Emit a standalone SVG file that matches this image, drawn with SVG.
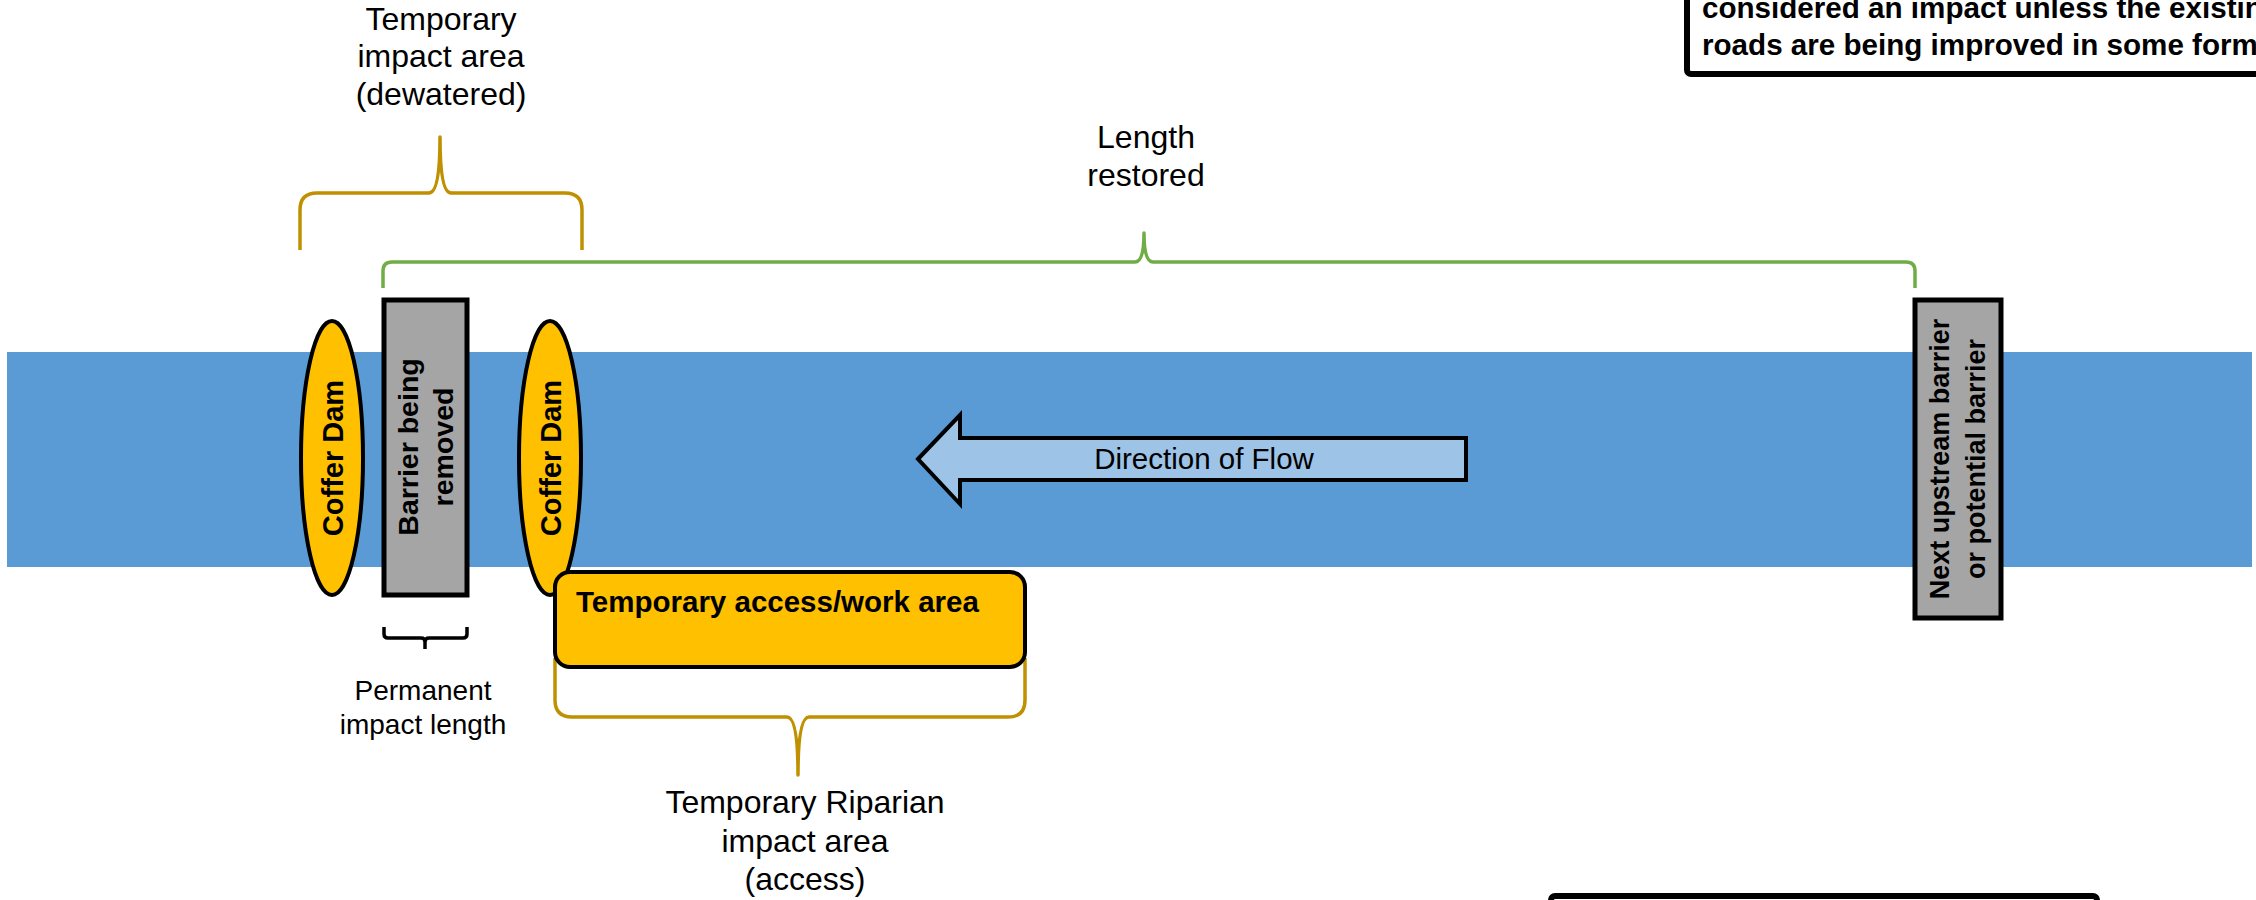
<svg xmlns="http://www.w3.org/2000/svg" width="2256" height="900" viewBox="0 0 2256 900">
<style>
.lbl{font-family:"Liberation Sans",Arial,sans-serif;font-size:32px;fill:#000;text-anchor:middle}
.bold{font-family:"Liberation Sans",Arial,sans-serif;font-weight:bold;fill:#000}
.mid{text-anchor:middle}
.dam{fill:#FFC000;stroke:#000;stroke-width:4}
.bar{fill:#A5A5A5;stroke:#000;stroke-width:5}
.brace{fill:none;stroke-width:3.5;stroke-linejoin:round;stroke-linecap:butt}
.gold{stroke:#BF9000}
.green{stroke:#70AD47}
.blk{stroke:#000}
.note{fill:#fff;stroke:#000;stroke-width:6}
</style>
<rect width="2256" height="900" fill="#fff"/>
<g id="stream"><rect x="7" y="352" width="2245" height="215" fill="#5B9BD5"/></g>
<g id="note-top"><rect class="note" x="1687" y="-20" width="600" height="94" rx="4"/>
<text class="bold" font-size="29.6" x="1702" y="18">considered an impact unless the existing</text>
<text class="bold" font-size="29.6" x="1702" y="55">roads are being improved in some form</text></g>
<g id="note-bottom"><rect class="note" x="1551" y="896" width="546" height="100" rx="4"/></g>
<g id="connectors">
<path class="brace gold" d="M300,250 L300,210 Q300,193 317,193 L429,193 Q440,193 440,137 Q440,193 451,193 L565,193 Q582,193 582,210 L582,250"/>
<path class="brace green" d="M383,288 L383,271 Q383,262 392,262 L1135,262 Q1144,262 1144,233 Q1144,262 1153,262 L1906,262 Q1915,262 1915,271 L1915,288"/>
<path class="brace gold" d="M555,658 L555,700 Q555,717 572,717 L787,717 Q798,717 798,775 Q798,717 809,717 L1008,717 Q1025,717 1025,700 L1025,658"/>
<path class="brace blk" d="M384,627 L384,634 Q384,638 388,638 L421,638 Q425,638 425,642 L425,649 M425,642 Q425,638 429,638 L463,638 Q467,638 467,634 L467,627"/>
</g>
<g id="label-dewatered"><text class="lbl" x="441" y="30">Temporary</text><text class="lbl" x="441" y="67">impact area</text><text class="lbl" x="441" y="105">(dewatered)</text></g>
<g id="label-length"><text class="lbl" x="1146" y="148">Length</text><text class="lbl" x="1146" y="186">restored</text></g>
<g id="label-permanent"><text class="lbl" style="font-size:28px" x="423" y="700">Permanent</text><text class="lbl" style="font-size:28px" x="423" y="734">impact length</text></g>
<g id="label-riparian"><text class="lbl" x="805" y="813">Temporary Riparian</text><text class="lbl" x="805" y="852">impact area</text><text class="lbl" x="805" y="890">(access)</text></g>
<g id="coffer-dam-1"><ellipse class="dam" cx="332" cy="458" rx="31" ry="137"/>
<text class="bold mid" font-size="29" transform="translate(343,458) rotate(-90)">Coffer Dam</text></g>
<g id="barrier-removed"><rect class="bar" x="384" y="300" width="83" height="295"/>
<text class="bold mid" font-size="28.5" transform="translate(418,447) rotate(-90)">Barrier being</text>
<text class="bold mid" font-size="28.5" transform="translate(453,447) rotate(-90)">removed</text></g>
<g id="coffer-dam-2"><ellipse class="dam" cx="550" cy="458" rx="31" ry="137"/>
<text class="bold mid" font-size="29" transform="translate(561,458) rotate(-90)">Coffer Dam</text></g>
<g id="work-area"><rect class="dam" x="555" y="572" width="470" height="95" rx="15"/>
<text class="bold" font-size="29.5" x="576" y="612">Temporary access/work area</text></g>
<g id="flow-arrow"><path d="M918,459 L960,415 L960,438 L1466,438 L1466,480 L960,480 L960,504 Z" fill="#9DC3E6" stroke="#000" stroke-width="4" stroke-linejoin="miter"/>
<text class="lbl" style="font-size:29.5px" x="1204" y="469">Direction of Flow</text></g>
<g id="next-barrier"><rect class="bar" x="1915" y="300" width="86" height="318"/>
<text class="bold mid" font-size="27" transform="translate(1949,459) rotate(-90)">Next upstream barrier</text>
<text class="bold mid" font-size="27" transform="translate(1985,459) rotate(-90)">or potential barrier</text></g>
</svg>
